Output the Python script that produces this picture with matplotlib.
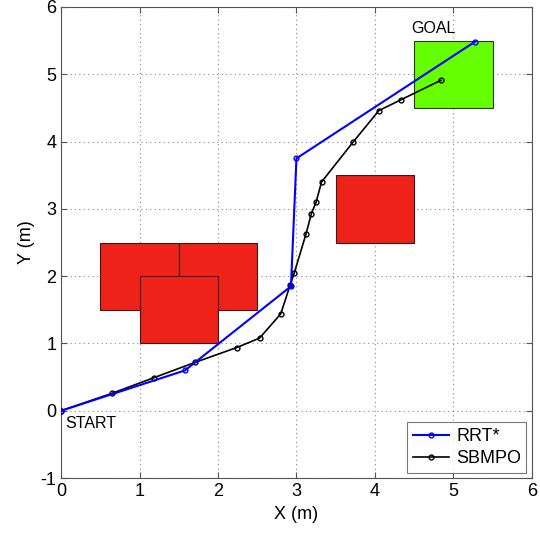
import matplotlib.pyplot as plt
from matplotlib.patches import Rectangle

plt.rcParams['font.family'] = ['Liberation Sans', 'DejaVu Sans']
plt.rcParams['axes.unicode_minus'] = False

# path data (m)
rrt_x = [0, 1.58, 2.93, 3.0, 5.27]
rrt_y = [0, 0.60, 1.85, 3.75, 5.48]

sbmpo_x = [0, 0.65, 1.18, 1.71, 2.24, 2.53, 2.80, 2.92, 2.97, 3.12, 3.19, 3.25,
           3.32, 3.72, 4.05, 4.33, 4.84]
sbmpo_y = [0, 0.26, 0.49, 0.72, 0.94, 1.08, 1.44, 1.87, 2.04, 2.62, 2.93, 3.10,
           3.40, 3.99, 4.46, 4.62, 4.91]

# obstacles: (x, y, w, h)
obstacles = [(0.5, 1.5, 1, 1), (1.5, 1.5, 1, 1), (1.0, 1.0, 1, 1), (3.5, 2.5, 1, 1)]
goal = (4.5, 4.5, 1, 1)

fig = plt.figure(figsize=(5.4, 5.33), dpi=100)
ax = fig.add_axes([0.113, 0.103, 0.872, 0.884])

for (x, y, w, h) in obstacles:
    ax.add_patch(Rectangle((x, y), w, h, facecolor='#ee2219', edgecolor='#3a1a1a', lw=0.8, zorder=2))
ax.add_patch(Rectangle(goal[:2], goal[2], goal[3], facecolor='#66ff00', edgecolor='#333333', lw=0.8, zorder=2))

ax.plot(rrt_x, rrt_y, '-o', color='#0000ff', lw=1.5, ms=3.5, mfc='none', mew=1.0, label='RRT*', zorder=4)
ax.plot(sbmpo_x, sbmpo_y, '-o', color='black', lw=1.2, ms=3.5, mfc='none', mew=1.0, label='SBMPO', zorder=3)

ax.text(4.75, 5.57, 'GOAL', fontsize=11.5, ha='center', va='bottom')
ax.text(0.05, -0.07, 'START', fontsize=11.5, ha='left', va='top')

ax.set_xlim(0, 6)
ax.set_ylim(-1, 6)
ax.set_xticks(range(0, 7))
ax.set_yticks(range(-1, 7))
ax.grid(True, linestyle=(0, (1, 3)), color='#888888', lw=0.8)
ax.set_axisbelow(True)
ax.tick_params(labelsize=13, direction='in', top=True, right=True, length=4, color='#555555')
ax.set_xlabel('X (m)', fontsize=13)
ax.set_ylabel('Y (m)', fontsize=13)
for s in ax.spines.values():
    s.set_color('#555555')

leg = ax.legend(loc='lower right', fontsize=13, fancybox=False, edgecolor='#555555',
                handlelength=2.0, handletextpad=0.4, numpoints=1, borderaxespad=0.3,
                labelspacing=0.3, borderpad=0.3)
leg.get_frame().set_linewidth(0.8)

fig.savefig('out.png', dpi=100)
